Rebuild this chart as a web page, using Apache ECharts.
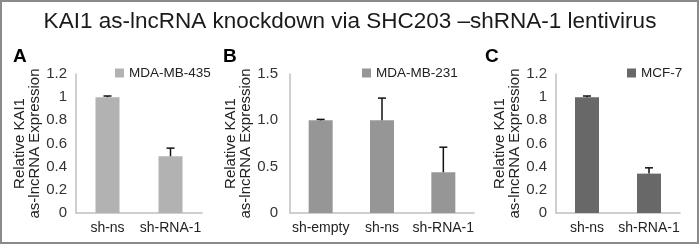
<!DOCTYPE html>
<html>
<head>
<meta charset="utf-8">
<script src="https://cdn.jsdelivr.net/npm/echarts@6/dist/echarts.min.js"></script>
<style>html,body{margin:0;padding:0;background:#fff}#c{width:700px;height:250px}</style>
</head>
<body>
<div id="c"></div>
<script>
// ---- data ----
const titleText = 'KAI1 as-lncRNA knockdown via SHC203 \u2013shRNA-1 lentivirus';
const yName = 'Relative KAI1\nas-lncRNA Expression';

const catsA = ['sh-ns', 'sh-RNA-1'];
const valsA = [1.0, 0.49];
const errA = [0.01, 0.07];
const nameA = 'MDA-MB-435';

const catsB = ['sh-empty', 'sh-ns', 'sh-RNA-1'];
const valsB = [1.0, 1.0, 0.44];
const errB = [0.01, 0.24, 0.27];
const nameB = 'MDA-MB-231';

const catsC = ['sh-ns', 'sh-RNA-1'];
const valsC = [1.0, 0.34];
const errC = [0.01, 0.05];
const nameC = 'MCF-7';

const ticksA = [0, 0.2, 0.4, 0.6, 0.8, 1, 1.2];
const ticksB = [0, 0.5, 1.0, 1.5];
const ticksC = [0, 0.2, 0.4, 0.6, 0.8, 1, 1.2];

// ---- chart ----
const font = '"Liberation Sans", Arial, sans-serif';
const axisCol = '#c0c0c0';
const panels = [
  {cats: catsA, vals: valsA, err: errA, name: nameA, ticks: ticksA, color: '#b2b2b2', left: 76, width: 126, labMargin: 9, fmt: v => String(v), legLeft: 110, letter: 'A', letterX: 13},
  {cats: catsB, vals: valsB, err: errB, name: nameB, ticks: ticksB, color: '#969696', left: 290, width: 184, labMargin: 12, fmt: v => v === 0 ? '0' : v.toFixed(1), legLeft: 357, letter: 'B', letterX: 223},
  {cats: catsC, vals: valsC, err: errC, name: nameC, ticks: ticksC, color: '#686868', left: 556, width: 124, labMargin: 9, fmt: v => String(v), legLeft: 622, letter: 'C', letterX: 485}
];

const grid = [], xAxis = [], yAxis = [], series = [], legend = [];
const graphic = [
  {type: 'rect', shape: {x: 1, y: 1, width: 697, height: 242}, style: {fill: 'none', stroke: '#8a8a8a', lineWidth: 2}, silent: true},
  {type: 'text', left: 'center', top: 10, style: {text: titleText, font: '22.5px ' + font, fill: '#1a1a1a'}}
];

panels.forEach((p, i) => {
  const tMax = p.ticks[p.ticks.length - 1];
  const interval = p.ticks[1] - p.ticks[0];
  grid.push({left: p.left, width: p.width, top: 74, height: 139});
  xAxis.push({
    type: 'category', gridIndex: i, data: p.cats,
    axisLine: {lineStyle: {color: axisCol, width: 1.5}},
    axisTick: {show: false},
    axisLabel: {color: '#222', fontSize: 14, fontFamily: font, margin: 8, interval: 0}
  });
  yAxis.push({
    type: 'value', gridIndex: i, min: 0, max: tMax, interval: interval,
    name: yName, nameLocation: 'middle', nameGap: 32,
    nameTextStyle: {color: '#222', fontSize: 15, fontFamily: font, lineHeight: 15},
    axisLine: {show: true, lineStyle: {color: axisCol, width: 1.5}},
    axisTick: {show: false},
    splitLine: {show: false},
    axisLabel: {color: '#333', fontSize: 15, fontFamily: font, margin: p.labMargin, formatter: p.fmt}
  });
  series.push({
    type: 'bar', name: p.name, xAxisIndex: i, yAxisIndex: i,
    data: p.vals, barWidth: 24, itemStyle: {color: p.color}, silent: true
  });
  series.push({
    type: 'custom', xAxisIndex: i, yAxisIndex: i, silent: true,
    data: p.vals.map((v, k) => [k, v, p.err[k]]),
    renderItem: function (params, api) {
      const base = api.coord([api.value(0), api.value(1)]);
      const top = api.coord([api.value(0), api.value(1) + api.value(2)]);
      const st = {stroke: '#111', lineWidth: 1.5};
      return {type: 'group', children: [
        {type: 'line', shape: {x1: base[0], y1: base[1], x2: base[0], y2: top[1]}, style: st},
        {type: 'line', shape: {x1: base[0] - 4, y1: top[1], x2: base[0] + 4, y2: top[1]}, style: st}
      ]};
    },
    z: 3
  });
  legend.push({
    data: [p.name], left: p.legLeft, top: 61, icon: 'rect', itemWidth: 9, itemHeight: 9, itemGap: 5,
    selectedMode: false,
    textStyle: {color: '#222', fontSize: 13.5, fontFamily: font}
  });
  graphic.push({type: 'text', left: p.letterX, top: 47, style: {text: p.letter, font: 'bold 19px ' + font, fill: '#000'}});
});

const chart = echarts.init(document.getElementById('c'), null, {renderer: 'canvas'});
chart.setOption({animation: false, backgroundColor: '#fff', grid, xAxis, yAxis, series, legend, graphic});
</script>
</body>
</html>
